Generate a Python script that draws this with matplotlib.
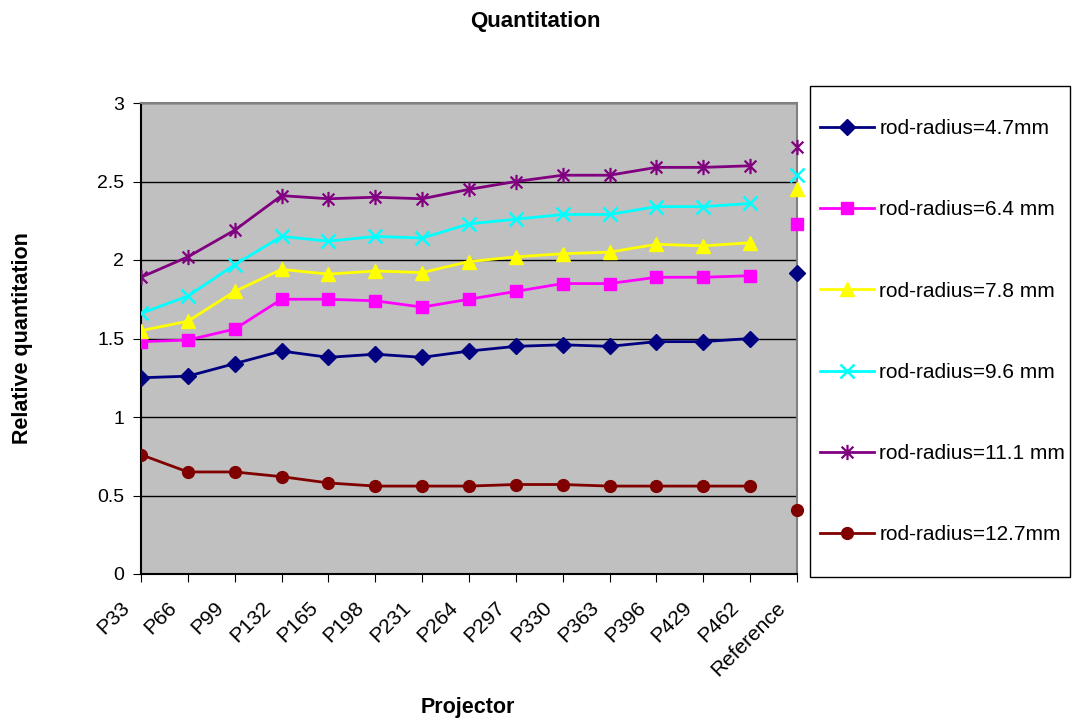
import matplotlib.pyplot as plt
from matplotlib.path import Path
from matplotlib.patches import Rectangle
from matplotlib.transforms import ScaledTranslation
import numpy as np

plt.rcParams['font.family'] = ['Liberation Sans', 'DejaVu Sans']

projectors = ['P33', 'P66', 'P99', 'P132', 'P165', 'P198', 'P231', 'P264',
              'P297', 'P330', 'P363', 'P396', 'P429', 'P462', 'Reference']

r47 = [1.25, 1.26, 1.34, 1.42, 1.38, 1.40, 1.38, 1.42, 1.45, 1.46, 1.45, 1.48, 1.48, 1.50, 1.92]
r64 = [1.48, 1.49, 1.56, 1.75, 1.75, 1.74, 1.70, 1.75, 1.80, 1.85, 1.85, 1.89, 1.89, 1.90, 2.23]
r78 = [1.55, 1.61, 1.80, 1.94, 1.91, 1.93, 1.92, 1.99, 2.02, 2.04, 2.05, 2.10, 2.09, 2.11, 2.45]
r96 = [1.66, 1.77, 1.97, 2.15, 2.12, 2.15, 2.14, 2.23, 2.26, 2.29, 2.29, 2.34, 2.34, 2.36, 2.54]
r111 = [1.89, 2.02, 2.19, 2.41, 2.39, 2.40, 2.39, 2.45, 2.50, 2.54, 2.54, 2.59, 2.59, 2.60, 2.72]
r127 = [0.76, 0.65, 0.65, 0.62, 0.58, 0.56, 0.56, 0.56, 0.57, 0.57, 0.56, 0.56, 0.56, 0.56, 0.41]

labels = ['rod-radius=4.7mm', 'rod-radius=6.4 mm', 'rod-radius=7.8 mm',
          'rod-radius=9.6 mm', 'rod-radius=11.1 mm', 'rod-radius=12.7mm']

# Excel style star: an x with a vertical bar through it
star = Path([(-1, -1), (1, 1), (-1, 1), (1, -1), (0, -1.3), (0, 1.3)],
            [Path.MOVETO, Path.LINETO, Path.MOVETO, Path.LINETO, Path.MOVETO, Path.LINETO])

styles = [
    (r47, '#000080', 'D', 8, 1),
    (r64, '#FF00FF', 's', 8.5, 1),
    (r78, '#FFFF00', '^', 10, 1),
    (r96, '#00FFFF', 'x', 10, 1.8),
    (r111, '#800080', star, 11, 1.6),
    (r127, '#800000', 'o', 8.5, 1),
]

fig = plt.figure(figsize=(10.73, 7.2), dpi=100)
ax = fig.add_axes([141 / 1073, 1 - 574 / 720, (797 - 141) / 1073, (574 - 103) / 720])
ax.set_facecolor('#C0C0C0')

x = np.arange(len(projectors))
handles = []
for (vals, color, marker, ms, mew), label in zip(styles, labels):
    line, = ax.plot(x[:-1], vals[:-1], color=color, lw=2, marker=marker, ms=ms,
                    mec=color, mew=mew, label=label, zorder=3)
    # the Reference value stands alone, not joined to the series line
    ax.plot(x[-1:], vals[-1:], color=color, lw=0, marker=marker, ms=ms,
            mec=color, mew=mew, zorder=3, clip_on=False)
    handles.append(line)

ax.set_xlim(0, len(projectors) - 1)
ax.set_ylim(0, 3)
ax.set_yticks(np.arange(0, 3.01, 0.5))
ax.set_yticklabels(['0', '0.5', '1', '1.5', '2', '2.5', '3'])
ax.yaxis.grid(True, color='black', lw=1)
ax.set_axisbelow(True)
ax.set_xticks(x)
ax.set_xticklabels(projectors, rotation=45, ha='right', va='center',
                   rotation_mode='anchor', fontsize=15)
ax.tick_params(axis='both', direction='out', length=6, colors='black')
ax.tick_params(axis='y', labelsize=14, pad=6)
ax.tick_params(axis='x', pad=16)
shift = ScaledTranslation(-0.14, 0, fig.dpi_scale_trans)
for lab in ax.get_xticklabels():
    lab.set_transform(lab.get_transform() + shift)

for side in ('left', 'bottom'):
    ax.spines[side].set_color('black')
    ax.spines[side].set_linewidth(1.5)
for side in ('top', 'right'):
    ax.spines[side].set_color('#808080')
    ax.spines[side].set_linewidth(1.5)

ax.set_ylabel('Relative quantitation', fontsize=15.5, fontweight='bold', labelpad=46)
fig.text(468 / 1073, 1 - 707 / 720, 'Projector', ha='center', va='center',
         fontsize=15.5, fontweight='bold')
fig.text(535 / 1073, 1 - 21 / 720, 'Quantitation', ha='center', va='center',
         fontsize=16, fontweight='bold')

fig.add_artist(Rectangle((810 / 1073, 1 - 577 / 720), 260 / 1073, 491 / 720,
                         transform=fig.transFigure, fill=False, ec='black', lw=1))
fig.legend(handles=handles, labels=labels, loc='upper left',
           bbox_to_anchor=(820 / 1073, 1 - 119 / 720), frameon=False,
           fontsize=15, labelspacing=2.99, borderpad=0, handlelength=2.6,
           handletextpad=0.25, borderaxespad=0)

fig.savefig('out.png', dpi=100, facecolor='white')
